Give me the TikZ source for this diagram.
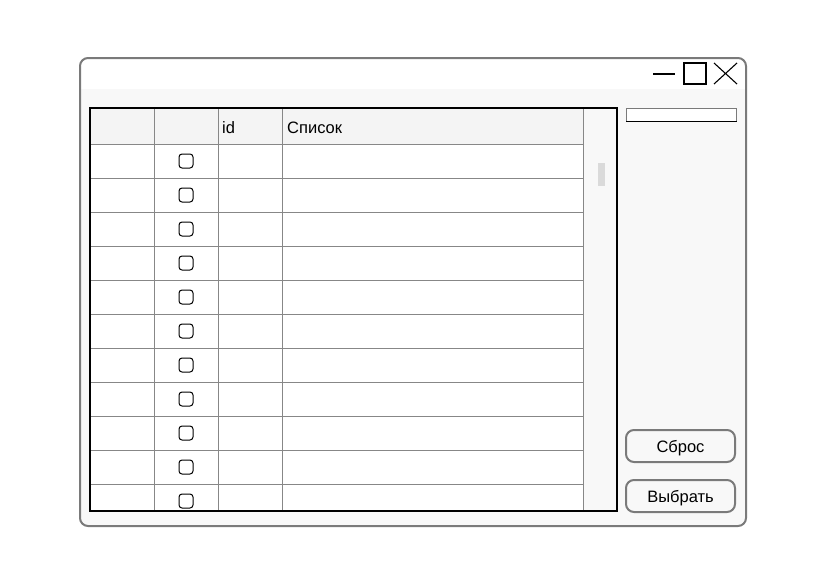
\documentclass[tikz,border=0pt]{standalone}
\usepackage{fontspec}
\setmainfont{Liberation Sans}
\usetikzlibrary{positioning}
\definecolor{frame}{RGB}{122,122,122}
\definecolor{grid}{RGB}{135,135,135}
\definecolor{panel}{RGB}{248,248,248}
\definecolor{header}{RGB}{244,244,244}
\definecolor{thumb}{RGB}{218,218,218}

\begin{document}
\begin{tikzpicture}[x=1pt, y=-1pt, font=\fontsize{16.5}{19}\selectfont,
  checkbox/.style={draw, rounded corners=3pt, line width=1pt, minimum size=14pt, inner sep=0pt},
  button/.style={draw=frame, line width=2pt, rounded corners=8pt, minimum width=109pt, minimum height=32pt, inner sep=0pt, text height=12pt, text depth=0pt},
  field/.style={draw=frame, fill=white, line width=1pt, minimum width=110pt, minimum height=13pt, inner sep=0pt},
  label/.style={anchor=base west, inner sep=0pt}]

\useasboundingbox (0,0) rectangle (826,586);

% window
\begin{scope}
\clip[rounded corners=8pt] (80,58) rectangle (746,526);
\fill[white] (80,58) rectangle (746,89);
\fill[panel] (80,89) rectangle (746,526);
\end{scope}
\draw[frame, line width=2pt, rounded corners=8pt] (80,58) rectangle (746,526);

% title buttons
\draw[line width=1.1pt] (653,74) -- (675,74);
\draw[line width=1.1pt] (684,63) rectangle (706,84);
\draw[line width=1.1pt] (714,63) -- (737,84) (714,84) -- (737,63);

% table
\fill[white] (90,144) rectangle (583,511);
\fill[header] (90,108) rectangle (583,144);
\fill[panel] (583,108) rectangle (617,511);
\foreach \y in {144,178,...,484}
  \draw[grid] (90,\y) -- (583,\y);
\foreach \x in {154,218,282,583}
  \draw[grid] (\x,108) -- (\x,511);
\fill[thumb] (598,163) rectangle (605,186);
\draw[line width=1.3pt] (90,108) rectangle (617,511);

\node[label] (colid) at (222,133) {id};
\node[label] (collist) at (287,133) {Список};

\foreach \i in {0,...,10}
  \node[checkbox] (box\i) at (186,161+34*\i) {};

% right panel
\node[field] (search) at (681.5,114.5) {};
\draw[line width=1.2pt] (search.south west) -- (search.south east);

\node[button] (reset) at (680.5,446) {Сброс};
\node[button, below=16pt of reset] (select) {Выбрать};

\end{tikzpicture}
\end{document}
